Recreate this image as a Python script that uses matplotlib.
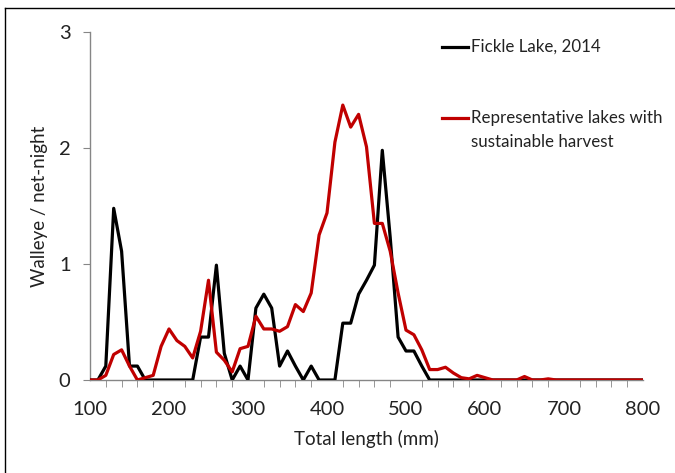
import matplotlib.pyplot as plt
from matplotlib.lines import Line2D
import numpy as np

plt.rcParams['font.family'] = ['Lato', 'DejaVu Sans']

# Total length bins (mm)
lengths = list(range(100, 810, 10))

# Fickle Lake, 2014 (walleye / net-night)
fickle = [0, 0, 0.12, 1.48, 1.11, 0.12, 0.12, 0, 0, 0,
          0, 0, 0, 0, 0.37, 0.37, 0.99, 0.23, 0, 0.12,
          0, 0.62, 0.74, 0.62, 0.12, 0.25, 0.12, 0, 0.12, 0,
          0, 0, 0.49, 0.49, 0.74, 0.86, 0.99, 1.98, 1.23, 0.37,
          0.25, 0.25, 0.12, 0, 0, 0, 0, 0, 0, 0,
          0, 0, 0, 0, 0, 0, 0, 0, 0, 0,
          0, 0, 0, 0, 0, 0, 0, 0, 0, 0,
          0]

# Representative lakes with sustainable harvest
representative = [0, 0, 0.04, 0.22, 0.26, 0.12, 0.0, 0.02, 0.04, 0.29,
                  0.44, 0.34, 0.29, 0.19, 0.42, 0.86, 0.24, 0.17, 0.07, 0.27,
                  0.29, 0.55, 0.44, 0.44, 0.42, 0.46, 0.65, 0.59, 0.75, 1.25,
                  1.44, 2.05, 2.37, 2.18, 2.29, 2.01, 1.35, 1.35, 1.11, 0.75,
                  0.43, 0.39, 0.26, 0.09, 0.09, 0.11, 0.06, 0.02, 0.01, 0.04,
                  0.02, 0, 0, 0, 0, 0.03, 0, 0, 0.01, 0,
                  0, 0, 0, 0, 0, 0, 0, 0, 0, 0,
                  0]

RED = '#C00000'
GRAY = '#868686'
TXT = '#222222'

fig = plt.figure(figsize=(6.75, 4.73), dpi=100)
ax = fig.add_axes([90 / 675, 1 - 380 / 473, 553 / 675, 348 / 473])

ax.plot(lengths, fickle, color='black', lw=2.3, solid_joinstyle='round', zorder=3)
ax.plot(lengths, representative, color=RED, lw=2.3, solid_joinstyle='round', zorder=4)

ax.set_xlim(100, 800)
ax.set_ylim(0, 3)
ax.set_xticks(range(100, 900, 100))
ax.set_xticks(range(100, 801, 20), minor=True)
ax.set_yticks([0, 1, 2, 3])

for s in ['top', 'right']:
    ax.spines[s].set_visible(False)
for s in ['left', 'bottom']:
    ax.spines[s].set_color(GRAY)
    ax.spines[s].set_linewidth(1.0)

ax.tick_params(axis='x', which='minor', direction='out', length=5, color=GRAY)
ax.tick_params(axis='x', which='major', length=0, labelsize=14.5, pad=15,
               labelcolor=TXT)
ax.tick_params(axis='y', direction='out', length=5, color=GRAY,
               labelsize=14.5, pad=9, labelcolor=TXT)

ax.set_xlabel('Total length (mm)', fontsize=13.5, color=TXT, labelpad=9)
ax.set_ylabel('Walleye / net-night', fontsize=13.5, color=TXT, labelpad=8)

# legend drawn by hand to match the original placement
fig.add_artist(Line2D([442 / 675, 468 / 675], [1 - 47 / 473] * 2, color='black', lw=2.3))
fig.text(471 / 675, 1 - 47 / 473, 'Fickle Lake, 2014', fontsize=12.2,
         va='center', ha='left', color=TXT)
fig.add_artist(Line2D([442 / 675, 468 / 675], [1 - 118 / 473] * 2, color=RED, lw=2.3))
fig.text(471 / 675, 1 - 118 / 473, 'Representative lakes with', fontsize=12.2,
         va='center', ha='left', color=TXT)
fig.text(471 / 675, 1 - 142 / 473, 'sustainable harvest', fontsize=12.2,
         va='center', ha='left', color=TXT)

# outer frame (top and left edges visible)
fig.add_artist(Line2D([5 / 675, 1.0], [1 - 8 / 473] * 2, color='black', lw=1.0))
fig.add_artist(Line2D([5 / 675] * 2, [0, 1 - 8 / 473], color='black', lw=1.0))

fig.savefig('out.png', dpi=100)
